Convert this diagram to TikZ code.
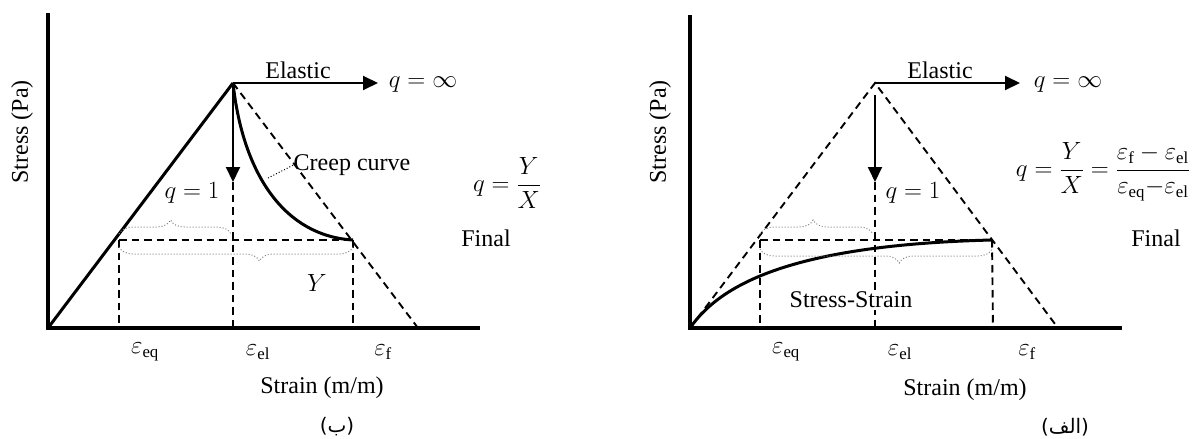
\documentclass[tikz,border=0pt]{standalone}
\usepackage{fontspec}
\setmainfont{Liberation Serif}
\newfontfamily\arabicfont[Script=Arabic]{DejaVu Sans}
\newfontfamily\parenfont{DejaVu Sans}
\TeXXeTstate=1
\usetikzlibrary{arrows.meta,decorations.pathreplacing}

\begin{document}
\begin{tikzpicture}[x=1pt,y=-1pt,
  axis/.style={line width=4pt},
  solidc/.style={line width=3pt},
  dsh/.style={line width=1.9pt, dash pattern=on 7.5pt off 5pt},
  arr/.style={line width=2pt,-{Triangle[length=15pt,width=14pt]}},
  brc/.style={gray, dotted, line width=1pt, decorate, decoration={brace, amplitude=14pt}},
  lbl/.style={font=\fontsize{24}{28}\selectfont, inner sep=0pt},
  captxt/.style={font=\fontsize{20}{24}\selectfont, inner sep=0pt},
  leader/.style={dotted, line width=1pt}
  ]
\useasboundingbox (0,0) rectangle (1192,439);

% ---------------- left panel (b) ----------------
\coordinate (LO) at (48,328);
\coordinate (LT) at (48,13);
\coordinate (LE) at (480,328);
\coordinate (LP) at (233,83);
\coordinate (LA) at (378,83);
\coordinate (LD) at (233,182);
\coordinate (LB) at (418,328);
\coordinate (Leq) at (119,240);
\coordinate (Leq0) at (119,328);
\coordinate (Lel0) at (233,328);
\coordinate (Lf) at (353,240);
\coordinate (Lf0) at (353,328);

\draw[dsh] (Leq) -- (Lf);
\draw[dsh] (Leq) -- (Leq0);
\draw[dsh] (Lf) -- (Lf0);
\draw[dsh] (LD) -- (Lel0);
\draw[dsh] (LP) -- (LB);
\draw[axis] (LT) -- (LO) -- (LE);
\draw[solidc] (LO) -- (LP);
\draw[solidc] (LP) .. controls (243,175) and (285,236) .. (Lf);
\draw[arr] (LP) -- (LA);
\draw[arr] (LP) -- (LD);

\coordinate (LbrA) at (119,234);
\coordinate (LbrB) at (231,234);
\coordinate (LbrC) at (119,247);
\coordinate (LbrD) at (353,247);
\draw[brc, decoration={aspect=0.46}] (LbrA) -- (LbrB);
\draw[brc, decoration={mirror, aspect=0.6}] (LbrC) -- (LbrD);

\node[lbl, rotate=90] (Lylab) at (22,132) {Stress (Pa)};
\node[lbl] (Lelastic) at (298,70) {Elastic};
\node[lbl] (Lqinf) at (423,85) {$q = \infty$};
\node[lbl] (Lq1) at (192,193) {$q = 1$};
\node[lbl] (Lcreep) at (352,165) {Creep curve};
\coordinate (Lcreeppt) at (268,178);
\draw[leader] (Lcreeppt) -- (Lcreep.west);
\node[lbl] (Lqyx) at (507,183) {$q = \displaystyle\frac{Y}{X}$};
\node[lbl] (Lfinal) at (486,238) {Final};
\node[lbl] (LY) at (317,283) {$Y$};
\node[lbl] (Lteq) at (145,352) {$\varepsilon_{\mathrm{eq}}$};
\node[lbl] (Ltel) at (258,352) {$\varepsilon_{\mathrm{el}}$};
\node[lbl] (Ltf) at (383,352) {$\varepsilon_{\mathrm{f}}$};
\node[lbl] (Lxlab) at (322,388) {Strain (m/m)};
\node[captxt] (Lcap) at (337,427) {{\parenfont(}{\arabicfont\beginR ب\endR}{\parenfont)}};

% ---------------- right panel (alef) ----------------
\coordinate (RO) at (690,328);
\coordinate (RT) at (690,15);
\coordinate (RE) at (1122,328);
\coordinate (RP) at (875,83);
\coordinate (RA) at (1020,83);
\coordinate (RDs) at (875,95);
\coordinate (RD) at (875,182);
\coordinate (RB) at (1058,328);
\coordinate (Req) at (760,240);
\coordinate (Req0) at (760,328);
\coordinate (Rel0) at (875,328);
\coordinate (Rf) at (992,240);
\coordinate (Rf0) at (993,328);

\draw[dsh] (Req) -- (Rf);
\draw[dsh] (Req) -- (Req0);
\draw[dsh] (Rf) -- (Rf0);
\draw[dsh] (RD) -- (Rel0);
\draw[dsh] (RO) -- (RP) -- (RB);
\draw[axis] (RT) -- (RO) -- (RE);
\draw[solidc] (RO) .. controls (720,285) and (790,245) .. (Rf);
\draw[arr] (RP) -- (RA);
\draw[arr] (RDs) -- (RD);

\coordinate (RbrA) at (760,234);
\coordinate (RbrB) at (873,234);
\coordinate (RbrC) at (760,249);
\coordinate (RbrD) at (992,249);
\draw[brc, decoration={aspect=0.47}] (RbrA) -- (RbrB);
\draw[brc, decoration={mirror, aspect=0.6}] (RbrC) -- (RbrD);

\node[lbl, rotate=90] (Rylab) at (660,132) {Stress (Pa)};
\node[lbl] (Relastic) at (940,70) {Elastic};
\node[lbl] (Rqinf) at (1068,85) {$q = \infty$};
\node[lbl] (Rq1) at (913,193) {$q = 1$};
\node[lbl] (Rqyx) at (1103,172) {$q = \displaystyle\frac{Y}{X} = \frac{\varepsilon_{\mathrm{f}} - \varepsilon_{\mathrm{el}}}{\varepsilon_{\mathrm{eq}}{-}\varepsilon_{\mathrm{el}}}$};
\node[lbl] (Rfinal) at (1156,238) {Final};
\node[lbl, fill=white, inner ysep=2pt] (Rss) at (851,300) {Stress-Strain};
\node[lbl] (Rteq) at (786,352) {$\varepsilon_{\mathrm{eq}}$};
\node[lbl] (Rtel) at (900,352) {$\varepsilon_{\mathrm{el}}$};
\node[lbl] (Rtf) at (1027,352) {$\varepsilon_{\mathrm{f}}$};
\node[lbl] (Rxlab) at (965,390) {Strain (m/m)};
\node[captxt] (Rcap) at (1065,427) {{\parenfont(}{\arabicfont\beginR الف\endR}{\parenfont)}};
\end{tikzpicture}
\end{document}
